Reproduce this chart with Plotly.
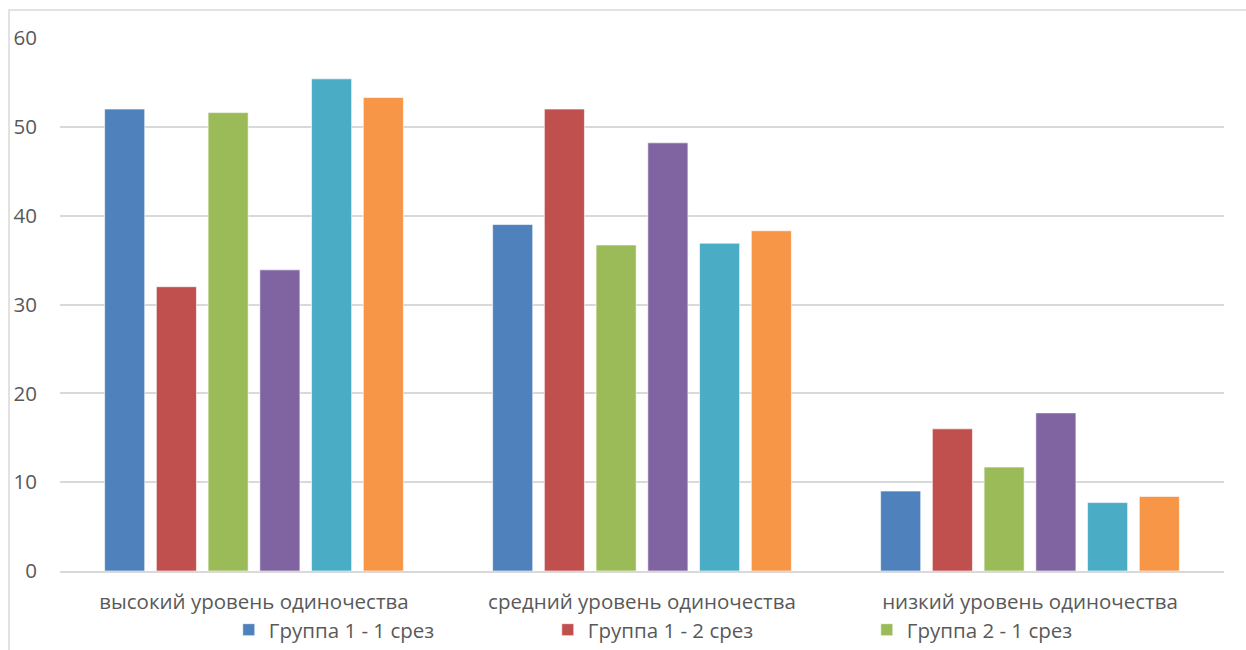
import plotly.graph_objects as go

categories = ["высокий уровень одиночества", "средний уровень одиночества", "низкий уровень одиночества"]

series_names = [
    "Группа 1 - 1 срез",
    "Группа 1 - 2 срез",
    "Группа 2 - 1 срез",
    "Группа 2 - 2 срез",
    "Группа 3 - 1 срез",
    "Группа 3 - 2 срез",
]

g1_s1 = [52.0, 39.0, 9.0]
g1_s2 = [32.0, 52.0, 16.0]
g2_s1 = [51.6, 36.7, 11.7]
g2_s2 = [33.9, 48.2, 17.8]
g3_s1 = [55.4, 36.9, 7.7]
g3_s2 = [53.3, 38.3, 8.4]

series_values = [g1_s1, g1_s2, g2_s1, g2_s2, g3_s1, g3_s2]
colors = ["#4F81BD", "#C0504D", "#9BBB59", "#8064A2", "#4BACC6", "#F79646"]
# only the first legend row fits in the frame
legend_visible = [True, True, True, False, False, False]

FONT = "Open Sans, sans-serif"
TEXT_COLOR = "#595959"

fig = go.Figure()
for name, vals, col, show in zip(series_names, series_values, colors, legend_visible):
    fig.add_trace(go.Bar(
        name=name,
        x=categories,
        y=vals,
        marker=dict(color=col, line=dict(color="rgba(255,255,255,0.6)", width=1)),
        showlegend=show,
    ))

fig.update_layout(
    width=1246,
    height=650,
    paper_bgcolor="white",
    plot_bgcolor="white",
    barmode="group",
    bargap=0.2,
    bargroupgap=0.225,
    margin=dict(l=60, r=22, t=38, b=79, autoexpand=False),
    font=dict(family=FONT, size=20, color=TEXT_COLOR),
    xaxis=dict(
        showgrid=False,
        showline=True,
        linecolor="#D9D9D9",
        linewidth=2,
        ticks="",
        ticklabelstandoff=11,
        tickfont=dict(size=20.5, color=TEXT_COLOR),
    ),
    yaxis=dict(
        range=[0, 60],
        dtick=10,
        showgrid=True,
        gridcolor="#D9D9D9",
        gridwidth=1.5,
        zeroline=False,
        showline=False,
        ticks="",
        ticklabelstandoff=22,
        tickfont=dict(size=20.5, color=TEXT_COLOR),
    ),
    legend=dict(
        orientation="h",
        x=0.145,
        xanchor="left",
        yref="container",
        y=0.031,
        yanchor="middle",
        entrywidth=274,
        entrywidthmode="pixels",
        font=dict(size=20.5, color=TEXT_COLOR),
        bgcolor="rgba(0,0,0,0)",
    ),
    shapes=[
        dict(
            type="rect",
            xref="paper",
            yref="paper",
            x0=-0.0438,
            x1=1.2,
            y0=-0.5,
            y1=1.0525,
            line=dict(color="#D9D9D9", width=1.5),
            fillcolor="rgba(0,0,0,0)",
            layer="below",
        )
    ],
)

fig.write_html("out.html")
